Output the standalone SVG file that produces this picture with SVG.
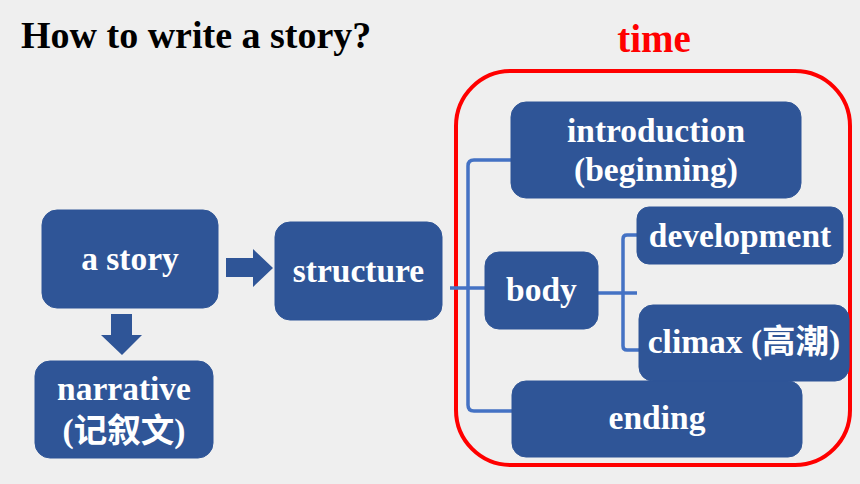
<svg xmlns="http://www.w3.org/2000/svg" width="860" height="484" viewBox="0 0 860 484">
<style>
.bg{fill:#EFEFEF}
.box{fill:#2F5597;stroke:#2F5597;stroke-width:1}
.t{font-family:"Liberation Serif","Noto Sans CJK SC",serif;font-weight:bold;font-size:33.5px;fill:#FFFFFF;text-anchor:middle}
.conn{fill:none;stroke:#4472C4;stroke-width:3.5}
.arrow{fill:#2F5597}
</style>
<rect class="bg" x="0" y="0" width="860" height="484"/>
<text x="21" y="48" font-family="Liberation Serif, serif" font-weight="bold" font-size="38" fill="#000000">How to write a story?</text>
<text x="654" y="52" font-family="Liberation Serif, serif" font-weight="bold" font-size="39" fill="#FF0000" text-anchor="middle">time</text>
<rect id="time-frame" x="456" y="71" width="394" height="394" rx="55" fill="none" stroke="#FF0000" stroke-width="4"/>
<g id="connectors">
<path class="arrow" d="M226,258 H253 V249 L273,268 L253,287 V277 H226 Z"/>
<path class="arrow" d="M111,314 H132 V335 H142 L122,355 L101,335 H111 Z"/>
<path class="conn" d="M450,288 H485"/>
<path class="conn" d="M511,160 H474 Q468,160 468,166 V405 Q468,411 474,411 H512"/>
<path class="conn" d="M598,293 H637"/>
<path class="conn" d="M637,235 H627 Q623,235 623,239 V346 Q623,350 627,350 H639"/>
</g>
<g id="a-story">
<rect class="box" x="42" y="210" width="176" height="98" rx="15"/>
<text class="t" x="130" y="270">a story</text>
</g>
<g id="structure">
<rect class="box" x="275" y="222" width="167" height="98" rx="15"/>
<text class="t" x="358.5" y="282">structure</text>
</g>
<g id="narrative">
<rect class="box" x="35" y="361" width="178" height="97" rx="15"/>
<text class="t" x="124" y="400">narrative</text>
<text class="t" x="124" y="442">(记叙文)</text>
</g>
<g id="introduction">
<rect class="box" x="511" y="102" width="290" height="96" rx="15"/>
<text class="t" x="656" y="142">introduction</text>
<text class="t" x="656" y="181">(beginning)</text>
</g>
<g id="body">
<rect class="box" x="485" y="252" width="113" height="77" rx="14"/>
<text class="t" x="541.5" y="301">body</text>
</g>
<g id="development">
<rect class="box" x="637" y="207" width="206" height="57" rx="12"/>
<text class="t" x="740" y="247">development</text>
</g>
<g id="ending">
<rect class="box" x="512" y="381" width="290" height="76" rx="14"/>
<text class="t" x="657" y="429">ending</text>
</g>
<g id="climax">
<rect class="box" x="639" y="305" width="210" height="76" rx="14"/>
<text class="t" x="744" y="353">climax (高潮)</text>
</g>
</svg>
